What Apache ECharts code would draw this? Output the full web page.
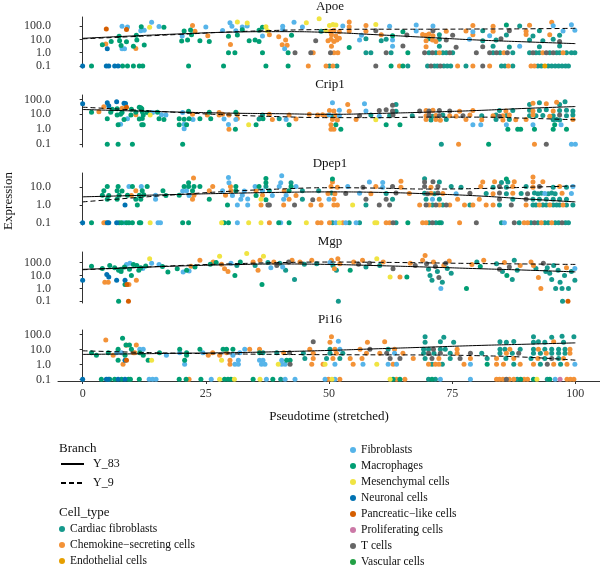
<!DOCTYPE html>
<html>
<head>
<meta charset="utf-8">
<title>Expression along pseudotime</title>
<script src="https://cdn.jsdelivr.net/npm/echarts@6/dist/echarts.min.js"></script>
</head>
<body style="margin:0">
<div id="main" style="width:600px;height:570px;"></div>
<script type="text/javascript">
// categories
var cellTypes = ['Cardiac fibroblasts', 'Chemokine\u2212secreting cells', 'Endothelial cells', 'Fibroblasts',
    'Macrophages', 'Mesenchymal cells', 'Neuronal cells', 'Pancreatic\u2212like cells',
    'Proliferating cells', 'T cells', 'Vascular cells'];
var cellColors = ['#15998c', '#f39237', '#e69f00', '#56b4e9', '#009e73', '#f0e442',
    '#0072b2', '#d55e00', '#cc79a7', '#666666', '#22a045'];
var genes = ['Apoe', 'Crip1', 'Dpep1', 'Mgp', 'Pi16'];
var branches = ['Y_83', 'Y_9'];

// smoothed trends, read at pseudotime 0,10,...,100
var trendX = [0, 10, 20, 30, 40, 50, 60, 70, 80, 90, 100];
var apoeY83 = [12, 18, 26, 35, 38, 33, 22, 14, 9, 6.5, 4.8];
var apoeY9 = [11, 16, 24, 36, 48, 55, 58, 58, 60, 62, 68];
var crip1Y83 = [21, 17, 14, 12, 11, 10, 11.5, 14, 18, 25, 33];
var crip1Y9 = [30, 20, 13, 9, 7, 6, 6, 6.5, 6.5, 5.5, 4.3];
var dpep1Y83 = [2.9, 3.4, 4.0, 4.6, 5.2, 5.5, 5.2, 4.3, 3.3, 2.2, 1.5];
var dpep1Y9 = [1.5, 2.5, 4, 6, 8, 9.5, 9, 8, 8.5, 10, 12];
var mgpY83 = [30, 40, 55, 68, 78, 72, 58, 45, 34, 26, 19];
var mgpY9 = [28, 40, 60, 80, 100, 110, 105, 95, 85, 78, 72];
var pi16Y83 = [4.6, 5, 5.5, 6, 7, 8.5, 11, 14, 18, 22, 27];
var pi16Y9 = [8, 6.5, 5.5, 5, 4.6, 4.4, 4.3, 4.2, 3.8, 3, 1.9];

// cells: [pseudotime, expression, cell type index]
var apoePts = [
    [0,0.1,6],[1.8,0.1,4],[4.8,0.1,6],[5.3,0.1,6],[6.5,0.1,6],[7.2,0.1,6],[8.1,0.1,4],[9.1,0.1,4],[10.3,0.1,4],[11.5,0.1,4],[12.2,0.1,4],[21.5,0.1,4],[28.6,0.1,4],[37.2,0.1,4],[41.7,0.1,4],[45.8,0.1,1],[49.4,0.1,1],
    [50.1,0.1,0],[50.8,0.1,1],[51.6,0.1,0],[59.5,0.1,9],[62.6,0.1,4],[64.3,0.1,1],[65,0.1,4],[66,0.1,0],[70,0.1,0],[70.7,0.1,9],[71.4,0.1,0],[72,0.1,0],[72.6,0.1,9],[73.3,0.1,0],[74,0.1,0],[74.7,0.1,0],[76.1,0.1,1],[77.8,0.1,0],[79.2,0.1,1],[81.2,0.1,9],[82.6,0.1,1],[85,0.1,0],[85.7,0.1,0],[86.4,0.1,1],[87.3,0.1,0],[91,0.1,1],[91.7,0.1,1],[92.4,0.1,0],[93.1,0.1,0],[93.8,0.1,2],[94.5,0.1,0],[95.2,0.1,0],[95.9,0.1,0],[96.6,0.1,0],[97.3,0.1,0],[98,0.1,0],[98.6,0.1,0],
    [29.6,1,4],[30.9,1,4],[36.5,1,4],[41.7,1,4],[43.1,1,9],[46.3,1,9],[46.8,1,1],
    [50.3,1,9],[51,1,1],[51.8,1,1],[57.5,1,0],[58.5,1,0],[61.6,1,9],[62.6,1,0],[66,1,4],[69.4,1,9],[70.3,1,0],[71,1,9],[71.7,1,0],[72.4,1,1],[73.1,1,0],[73.8,1,0],[74.5,1,9],[75.1,1,0],[79.9,1,9],[82.6,1,9],[83.3,1,0],[84,1,9],[84.7,1,0],[85.5,1,1],[86.2,1,9],[87.3,1,0],[90.7,1,0],[91.4,1,9],[92,1,0],[92.7,1,0],[93.4,1,1],[94.1,1,9],[94.8,1,0],[95.5,1,9],[96.2,1,0],[96.8,1,0],[97.5,1,1],[98.2,1,0],[99.2,1,0],[99.9,1,0],
    [5,2,6],[8,2,3],[8.5,2,3],[10.8,2.1,1],[41,2,3],
    [4,4,4],[4.7,4.5,1],[7.8,3.5,4],[10.3,3,4],[12.5,3.8,4],[30,4.2,1],[40.5,4,1],[41.5,3.6,1],
    [5.8,7,4],[7.5,8,4],[8.9,6.5,4],[11,9,4],[20.1,7.5,4],[21.3,9,4],[23.8,8,4],[25.7,7,4],[33.8,8,4],[35,9,4],[35.8,7,4],[41.2,9,1],[47.3,8,9],
    [7.4,17,4],[10.9,20,4],[20.2,18,3],[22.1,22,4],[25.4,19,1],[29.6,17,4],[31.4,21,4],[36.5,18,3],[37.9,22,1],[39.8,16,1],[42.4,20,4],
    [11.8,45,3],[12.5,48,3],[20.6,42,4],[21.9,50,4],[22.8,40,1],[28.4,46,3],[31.1,44,3],[32.4,52,4],[35.8,48,4],[37.5,45,5],[40.6,55,3],[48.4,40,0],
    [8,95,3],[9.1,85,3],[11.9,90,4],[13.6,80,5],[15.5,92,3],[16.5,80,4],[22.3,110,1],[25,85,3],[30.3,95,3],[32.4,85,3],[33.4,100,3],[36.5,80,4],[37.2,90,5],[40.6,95,3],[44.6,85,3],
    [4.8,60,7],[8.9,55,7],
    [14,190,3],[29.9,180,3],[31.4,200,5],[33.4,170,5],[42.9,190,3],[45.4,180,5],[48,350,5],
    [50.5,3,1],[54.1,2.5,4],[62.9,3,3],[65,3.2,9],[69.7,2.8,1],[72.4,3,0],[75.8,2.6,9],[81.2,2.8,9],[83.3,3,0],[86.6,2.7,0],[88.7,3,3],[92.7,2.8,0],[96.8,3.2,0],
    [49.8,8,1],[50.4,10,1],[51,7,1],[51.6,9,1],[52.1,12,1],[56.2,9,3],[57.5,11,0],[60.6,8,0],[61.6,10,0],[62.9,9,3],[69.7,8,1],[70.3,11,0],[71,9,1],[71.7,7,1],[72.4,10,0],[73.8,9,9],[78.5,10,3],[81.2,8,0],[83.9,9,0],[84.9,11,9],[90.7,9,0],[93.4,8,0],[95.5,10,0],[96.8,7,9],
    [50.5,22,1],[51.4,18,1],[56.6,20,3],[60.6,22,1],[62.9,19,4],[65.8,21,9],[69,23,1],[69.7,20,1],[70.3,25,1],[71.1,19,1],[72.4,22,0],[75.1,20,9],[79.2,22,1],[82.6,19,3],[86,21,0],[90,23,1],[91.4,18,0],[94.8,22,1],[96.8,20,0],
    [49.4,45,5],[50.2,40,1],[51,48,1],[52.1,38,1],[54.1,42,1],[57.5,40,1],[59.5,45,9],[65,38,4],[67.7,42,3],[71.1,45,9],[73.8,40,1],[77.8,42,1],[79.2,38,3],[81.2,45,0],[83.3,40,1],[86.6,44,9],[90,40,1],[92.7,45,0],[97.5,42,3],[99.9,48,3],
    [50.1,110,5],[50.8,130,5],[51.4,120,5],[52.8,100,3],[54.1,90,1],[57.5,110,1],[59.5,130,5],[62.3,95,3],[67.7,120,3],[71.1,100,3],[79.2,110,1],[83.3,95,1],[86,120,4],[88.7,100,0],[90.7,115,1],[95.5,105,3],[99.2,125,3],
    [54.1,200,1],[95.2,190,1]
];
var crip1Pts = [
    [5,0.1,4],[7.2,0.1,4],[10.1,0.1,4],[20.3,0.1,4],
    [0,50,6],[5,60,6],[6.9,70,6],[8.4,55,6],[8.7,52,6],
    [4.3,32,1],[5.3,38,6],[8.9,30,7],[11.5,30,4],[11.8,27,4],
    [6,22,4],[7,24,4],[8,25,1],[9.9,22,4],[12,24,4],
    [1.8,14,4],[3.3,15,1],[5.7,14,4],[8,13,4],[10.8,14,4],[12.1,15,4],[13.1,13,4],[14.2,13,3],[15.2,14,4],[20.3,13,3],[21.5,16,4],[25.7,14,4],[27.7,13,1],[31.1,14,4],
    [7,9,4],[7.7,10,4],[9.8,9,4],[10.8,9.5,1],[12.3,9,4],[13.7,9,5],[16,9.5,3],[16.9,9,3],[22.3,10,1],[25.3,9,1],[27.7,9,1],[28.4,10,1],[29.7,9,1],[31.4,10,1],[36.5,9,0],[37.9,10,1],[41.9,9,1],[46,10,1],[47.7,9,1],[48.7,9.5,1],
    [5,5,4],[8.4,4.5,4],[9.1,5,3],[11.5,4.8,4],[12.1,5.2,4],[15.5,5,4],[16.5,4.6,4],[19.6,5,4],[20.6,4.7,4],[21.6,5,4],[22.4,4.5,3],[23.8,5,4],[26,5,4],[28.7,4.8,3],[31.1,4.5,3],[31.4,5.2,1],[35.8,4.8,0],[36.6,5,4],[38.5,4.6,1],[39.9,5,0],[41.3,4.6,3],[43.3,4.8,1],
    [7.2,2,4],[7.7,2.2,3],[12,2,4],[12.3,2,4],[19.6,2,4],[20.6,2.2,3],[21.1,2,4],[29.6,2.1,3],[33.7,2,5],[35.2,2,4],[41.9,2,4],
    [20.6,1.1,3],[29.7,1,1],[31,1,4],
    [72.8,0.1,0],[76.3,0.1,1],[82.4,0.1,4],[91.7,0.1,1],[94.1,0.1,9],[99.2,0.1,3],[100,0.1,3],
    [50.4,1,1],[51,1,1],[52.4,1,4],[86.3,1,4],[88.3,1,4],[88.9,1,4],[91.7,1,4],[95.5,1,4],[98.2,1,4],
    [50.4,2,1],[51.4,2,4],[61.6,2,4],[64.4,2,4],[79.2,2,3],[80.8,2,3],[86,2,3],[91.4,2,3],[95.8,2,4],[97.1,2,3],
    [50.7,4.5,1],[51.7,4.2,1],[55.5,4.5,1],[59.5,4.3,5],[69.7,4.5,1],[70.7,4.2,0],[71.7,4.5,1],[72.6,4,1],[73.8,4.6,0],[77.8,4.5,1],[81,4.3,1],[83.9,4.5,0],[85.3,4.2,1],[86.6,4.6,0],[87.9,4.3,1],[90,4.5,1],[95.5,4.3,0],[96.2,4.5,0],[96.8,4.2,0],[99.5,4.6,1],
    [49.5,8,1],[50,9,3],[50.7,7.5,0],[51.4,8.5,1],[52.1,8,3],[56.2,8,9],[58.5,9,0],[60.2,7.5,3],[62.3,8,0],[63,9,9],[66.9,8,0],[69.7,8,1],[70.3,9,9],[71,7.5,0],[71.7,8.5,1],[72.4,8,9],[73.1,9,0],[74.5,8,1],[75.8,7.5,1],[77.2,8,9],[78.6,9,1],[81,8,0],[83.3,8,1],[83.9,9,0],[84.6,7.5,9],[85.3,8,1],[86,8.5,0],[86.6,9,1],[90.7,8,0],[91.4,9,1],[92,8,0],[93.4,8.5,0],[94.8,7.5,1],[95.5,8,0],[96.8,9,9],[98.2,8,0],[99.5,9,0],
    [50.1,18,1],[51,17,1],[52.1,19,3],[54.1,16,1],[57.5,17,3],[60.2,18,9],[61.6,20,9],[62.9,17,9],[63.6,16,0],[68.4,17,9],[69.7,18,1],[70.3,17,9],[71.1,19,1],[72.4,18,9],[74.5,17,9],[76.5,16,1],[79.2,18,1],[84.6,18,0],[85.9,17,1],[87.3,18,0],[90.7,19,0],[91.4,17,1],[92.7,18,0],[94.1,20,0],[95.5,17,1],[96.8,18,0],[98.2,19,0],[99.5,17,0],
    [50.7,60,3],[53.8,45,1],[57.2,50,3],[62.9,40,9],[63.6,45,0],[90.7,45,0],[91.4,55,1],[92.7,60,0],[94.1,50,1],[96.2,65,1],[97.9,70,0],[96.8,45,0]
];
var dpep1Pts = [
    [0,0.1,6],[1.8,0.1,4],[4.3,0.1,1],[4.7,0.1,1],[5,0.1,6],[5.3,0.1,6],[6.9,0.1,6],[7.4,0.1,4],[7.9,0.1,4],[8.4,0.1,3],[8.9,0.1,4],[9.4,0.1,4],[10.1,0.1,4],[11.5,0.1,4],[11.8,0.1,4],[13.7,0.1,5],[15.3,0.1,3],[15.8,0.1,3],[20.3,0.1,4],[21.5,0.1,4],[28.2,0.1,5],[28.7,0.1,4],[29.6,0.1,4],[31.4,0.1,3],[33.7,0.1,5],[36.2,0.1,5],[37.9,0.1,1],[39.8,0.1,4],[40.2,0.1,3],[41.9,0.1,4],[45.4,0.1,5],[47.7,0.1,1],[48.4,0.1,1],
    [8.6,1,6],[11.1,1,4],[29.4,1,4],[31.4,1,3],[33.5,1,3],[36.2,1,1],[37.6,1,9],[37.9,1,9],[40.8,1,1],[43,1,9],[46.3,1,1],[48.4,1,1],
    [5,2.1,4],[7,2.1,4],[10.8,2.1,4],[11.8,2.1,4],[14.8,2.1,3],[22.3,2.1,1],[25.7,2.1,4],[32.1,2.1,3],[33.5,2.2,3],[36.2,2.1,5],[37.2,2,4],[40.8,2.1,3],[41.9,2.1,1],[44.6,2.1,0],[46.7,2,9],[48,2.1,1],
    [4,3.6,4],[5.3,3.5,4],[7.4,3.6,4],[9.1,3.6,4],[9.9,3.4,1],[11.5,3.6,4],[12.4,3.8,4],[14.8,3.6,3],[16.9,3.5,4],[19.6,3.6,4],[21.6,3.5,3],[22.6,3.6,1],[29,3.6,1],[30.4,3.5,3],[32.4,3.6,3],[35.2,3.5,4],[36.5,3.6,1],[38.5,3.4,3],[41.3,3.6,3],[43.3,3.5,1],
    [4.3,6.4,4],[7,6.4,4],[8,6.2,4],[10.8,6.4,1],[12.1,6.4,4],[16.3,6.4,4],[20.3,6.2,3],[21.1,6.5,3],[22.3,6.4,4],[25.7,6.4,1],[28.4,6.3,3],[30.1,6.4,1],[31.1,6.4,4],[32.8,6.2,3],[35.2,6.4,1],[36.5,6.4,3],[37.9,6.4,0],[40.9,6.2,1],[41.9,6.4,4],[44.6,6.4,0],[47.9,6.4,0],
    [5,11,4],[7.2,11,4],[9.4,11,3],[10.1,11,4],[11.9,11,3],[13.1,11,4],[20.6,11,4],[21.5,11,4],[22.6,11,4],[23.8,11,4],[26.4,11,1],[30,11,1],[31.1,11,4],[35,11,3],[35.8,11,4],[37.2,11,0],[39.9,11,3],[42.3,11,4],[43.3,11,3],
    [21.5,18,4],[29.7,18,3],[37.2,18,4],[40.2,18,3],[42.3,18,0],
    [22.5,34,1],[29.6,36,3],[37.2,32,4],[40.4,45,3],
    [50.1,0.1,1],[50.7,0.1,0],[51.4,0.1,3],[52.1,0.1,5],[52.8,0.1,1],[53.4,0.1,3],[54.1,0.1,0],[55.5,0.1,3],[56.2,0.1,0],[59.3,0.1,5],[59.7,0.1,5],[61.6,0.1,1],[62.3,0.1,1],[63,0.1,9],[63.6,0.1,0],[66,0.1,4],[69,0.1,1],[69.7,0.1,1],[70.3,0.1,0],[71,0.1,9],[71.7,0.1,0],[72.4,0.1,4],[72.8,0.1,0],[76.5,0.1,1],[79.9,0.1,9],[85,0.1,0],[85.6,0.1,3],[87.6,0.1,9],[88.6,0.1,0],[89.6,0.1,1],[90.3,0.1,1],[91,0.1,0],[91.7,0.1,9],[92.4,0.1,0],[93.1,0.1,1],[93.8,0.1,0],[94.5,0.1,0],[95.2,0.1,1],[95.9,0.1,0],[96.6,0.1,0],[97.3,0.1,9],[98,0.1,0],[98.6,0.1,0],
    [51,1,1],[51.7,1,1],[54.8,1,5],[57.5,1,0],[60.2,1,9],[62.3,1,9],[68.4,1,1],[69.7,1,9],[70.3,1,1],[71,1,0],[71.7,1,9],[72.4,1,1],[73.1,1,0],[73.8,1,9],[74.5,1,1],[77.5,1,1],[78.6,1,0],[79.2,1,1],[81.9,1,1],[83.3,1,1],[84.6,1,0],[87,1,9],[90,1,1],[91.4,1,0],[92,1,0],[92.7,1,1],[93.4,1,0],[94.1,1,0],[94.8,1,1],[95.5,1,0],[96.2,1,0],[96.8,1,0],[97.5,1,1],[98.2,1,0],[99.5,1,0],
    [50,2.1,3],[51,2.1,1],[57.5,2.1,9],[61.6,2.1,9],[62.9,2.1,0],[69.7,2.1,0],[71,2.1,3],[72.4,2.1,0],[76.1,2.1,1],[80.5,2.1,1],[84.6,2.1,9],[87.3,2.1,0],[90,2.1,9],[91.4,2.1,0],[92.7,2.1,0],[94.1,2.1,0],[95.5,2.1,0],[96.8,2.1,0],[98.2,2.1,0],
    [49.8,4.5,1],[50.5,4.8,0],[51.2,4.3,1],[53.4,4.5,9],[56.2,4.6,3],[58.5,4.4,1],[61.6,4.5,0],[63.6,4.8,9],[66.3,4.5,1],[69.4,4.6,0],[70,4.3,9],[70.7,4.6,1],[71.4,4.4,0],[72.1,4.8,9],[73.1,4.5,1],[75.8,4.4,3],[78.6,4.6,9],[81.9,4.5,0],[83.3,4.4,1],[84.6,4.7,9],[86,4.3,0],[87.3,4.6,1],[89,4.5,0],[90.3,4.4,9],[91.7,4.7,0],[92.4,4.3,0],[93.1,4.6,0],[93.8,4.5,3],[94.5,4.3,0],[95.2,4.8,0],[95.9,4.4,0],[97.3,4.6,1],[99.2,4.5,3],
    [50.4,11,1],[51.7,10,1],[53.8,11,3],[56.9,10,9],[59.5,11,1],[60.9,10,3],[62.9,11,9],[64.6,10,1],[69.4,11,9],[70.7,10,1],[72.1,11,9],[74.8,11,0],[76.8,10,0],[80.8,11,1],[83.3,10,0],[84.6,11,9],[86,10,0],[87.3,11,1],[90,11,0],[91.4,10,1],[92.7,11,9],[95.5,10,0],[96.8,11,1],[98.2,10,0],[99.5,11,3],
    [50.7,20,1],[58.2,20,3],[60.9,19,3],[64.6,22,1],[69.4,20,9],[71.1,21,9],[72.4,20,0],[81.2,20,1],[83.6,21,1],[85,19,0],[86.3,20,0],[87.6,21,1],[91.4,20,1],[93.4,21,1],
    [50.7,30,4],[69.4,31,0],[86,30,4],[91.4,38,1]
];
var mgpPts = [
    [0,4.3,6],[1.8,52,4],[4.5,3,1],[5.2,3,1],[4.9,12,6],[5.3,7.6,6],[6.9,4.3,6],[7.3,0.1,4],[8.6,4.3,6],[8.6,2,4],[9,2,7],[9.3,0.1,7],[9.4,2,1],[9.9,10,4],[10.9,4.3,1],
    [4,35,4],[5.5,60,4],[6.5,40,4],[7.3,25,4],[7.8,30,4],[8.5,45,4],[9.5,30,4],[10.3,70,4],[11,60,4],[11.8,40,4],[12.2,35,3],[12.8,55,4],[7.8,20,4],[8.9,70,3],[9.6,90,3],[11.4,25,4],
    [13.6,200,5],[14,90,3],[15.5,70,3],[16.2,50,4],[17.3,19,4],[19.2,34,4],[20.4,19,3],[21.1,25,4],[21.6,22,3],[22,52,1],[22.8,45,4],[23.8,150,1],[25.9,74,4],[26.5,112,1],[27.1,100,4],[27.8,310,5],[28.2,74,1],[28.8,34,1],[29.5,20,1],[30.1,90,3],[30.9,10,4],[31.3,60,0],[32,110,4],[33.3,500,5],[34.6,112,1],[35,60,0],[35.6,25,1],[36,150,1],[36.4,2,4],[36.7,310,5],[37.6,100,0],[38.2,40,3],[38.8,112,1],[39.4,60,9],[40,90,0],[40.6,45,3],[41.2,25,0],[41.8,110,9],[42.5,150,1],[43,4.8,0],
    [44.1,112,1],[45,74,0],[46.5,150,1],[47.5,80,0],
    [50.2,100,3],[50.5,150,1],[50.8,60,0],[51.1,34,1],[51.5,25,0],[51.8,200,1],[51.9,0.1,0],[52.2,80,1],
    [54.3,25,4],[55,110,1],[56,74,9],[56.8,150,1],[57.5,45,0],[58.2,90,9],[59.7,200,5],[60.3,60,0],[61,110,1],[62.4,7.6,5],[63,34,9],
    [64.4,7.6,1],[65.8,7.6,4],[66.5,90,1],[67.5,60,9],
    [69,150,1],[69.5,360,1],[69.8,80,9],[70.2,30,0],[70.5,10,0],[70.9,4.3,0],[71.2,112,1],[71.6,50,9],[72,20,0],[72.3,7,9],[72.7,1,3],[73,3,0],[73.3,60,1],[73.7,90,9],[74,35,0],[74.4,130,1],[74.8,15,0],
    [77.9,1,4],[79,70,1],[80,110,0],[80.7,50,4],[81.4,150,1],
    [84,80,0],[84.6,30,9],[85.2,20,0],[85.6,100,1],[86.1,10,4],[86.6,45,9],[87.2,5,0],[87.6,150,0],[88.2,25,0],[88.8,60,1],
    [91,110,1],[91.5,60,1],[92,35,0],[92.5,7,1],[93,1,1],[93.5,90,9],[94,20,0],
    [94.3,40,0],[94.8,15,0],[95.2,5,0],[95.6,60,0],[96,1,0],[96.5,25,0],[96.9,3,0],[97.3,1,0],[97.8,10,0],[98.2,40,1],[98.6,1,0],[97.4,0.1,0],[98.5,0.1,7],[99.2,20,0],[99.9,4.3,0],[99.9,35,3]
];
var pi16Pts = [
    [0,0.1,6],[3.8,0.1,4],[4.8,0.1,6],[5.2,0.1,6],[5.5,0.1,4],[6.5,0.1,4],[7.2,0.1,6],[7.9,0.1,4],[8.6,0.1,6],[9.3,0.1,4],[9.7,0.1,4],[11.5,0.1,4],[13.5,0.1,3],[14.2,0.1,3],[14.9,0.1,3],[19.6,0.1,4],[21,0.1,4],[21.6,0.1,1],[24,0.1,4],[26.1,0.1,3],[27.8,0.1,5],[28.8,0.1,4],[29.5,0.1,4],[30.1,0.1,4],[30.8,0.1,5],[34.6,0.1,4],[36,0.1,5],[37.3,0.1,3],[38.6,0.1,4],[40.2,0.1,0],[41.1,0.1,3],[43.1,0.1,3],
    [4.7,42,1],[8.1,54,4],[8.8,19.5,4],[9.5,19.5,4],[8.9,19,1],[10.9,19.5,1],
    [7.2,10,4],[9.9,10,4],[11.6,10,3],[12.3,10,3],[19.7,10,4],[23.8,10,4],[28.5,10,4],[29.2,10,4],[30.5,10,4],[32.9,10,3],[33.9,10,1],[35.9,10,1],
    [1.8,5.9,4],[5.2,5.9,4],[6.9,5.9,3],[7.9,5.9,3],[10.3,5.9,1],[10.6,5.9,1],[11.6,5.9,4],[15.6,5.9,4],[19.7,5.9,3],[21.1,5.9,4],[24.4,5.9,3],[26.4,5.9,1],[29.2,5.9,1],[31.9,5.9,3],[35.9,5.9,4],[36.6,5.9,0],[39.4,5.9,0],[40.8,5.9,1],[42,5.9,9],
    [2.8,4.1,4],[6.2,4.1,1],[8.6,4.1,4],[12.3,4.1,4],[17,4.1,3],[21.1,4.1,4],[25.5,4.1,1],[27.8,4.1,1],[30.5,4.1,3],
    [7.2,1.9,4],[8.6,1.9,6],[8.9,1.9,7],[13.3,1.9,4],[14,1.9,5],[20.7,1.9,4],[28.2,1.9,5],[29.9,1.9,1],[31.6,1.9,3],[35.9,1.9,3],[36.6,1.9,3],[40.4,1.9,3],[41.4,1.9,4],[42.1,1.9,4],
    [8.2,1,1],[20.7,1,3],[29.9,1,1],[30.9,1,3],[31.6,1,3],[36.3,1,3],[37,1,3],[39.7,1,5],[40.4,1,3],[41.1,1,3],[42.1,1,9],
    [49.2,0.1,3],[49.9,0.1,1],[50.6,0.1,5],[51.2,0.1,3],[52.2,0.1,1],[62.4,0.1,5],[63,0.1,4],[63.7,0.1,1],[64.4,0.1,4],[65.4,0.1,1],[70.2,0.1,0],[70.9,0.1,4],[71.6,0.1,0],[72.6,0.1,3],[78.7,0.1,3],[84,0.1,1],[84.6,0.1,1],[85.3,0.1,1],[86,0.1,9],[86.6,0.1,1],[87.5,0.1,1],[88.2,0.1,0],[88.9,0.1,4],[89.6,0.1,1],[90.3,0.1,1],[91.5,0.1,4],[92.2,0.1,5],[94.3,0.1,0],[94.8,0.1,4],[95.9,0.1,3],[96.9,0.1,8],[98.3,0.1,1],[99,0.1,1],[99.7,0.1,1],
    [46.5,1,1],[48.8,1,1],[49.2,1,5],[51.2,1,3],[54.9,1,1],[56.9,1,3],[59.7,1,5],[62,1,3],[63,1,1],[63.7,1,3],[70.2,1,1],[70.9,1,0],[71.6,1,1],[72.3,1,1],[73,1,0],[77.4,1,1],[78.7,1,3],[82.1,1,4],[84,1,1],[85.4,1,1],[87.5,1,0],[88.8,1,1],[91.5,1,1],[92.9,1,0],[94.3,1,9],[95.6,1,1],[97,1,0],[98.3,1,1],[99.9,1,3],
    [45.1,2.5,0],[46.8,2.5,1],[49.5,2.5,0],[50.8,2.5,1],[52.2,2.5,0],[54.3,2.5,1],[56.7,2.5,1],[62.4,2.5,9],[64.4,2.5,9],[67.1,2.5,1],[69.5,2.5,0],[70.9,2.5,9],[72.3,2.5,1],[74.6,2.5,0],[76.6,2.5,9],[78.7,2.5,1],[82.1,2.5,0],[84,2.5,1],[85.9,2.5,0],[87.5,2.5,1],[91,2.5,0],[92.4,2.5,1],[93.8,2.5,0],[95.2,2.5,9],[96.6,2.5,0],[97.6,2.5,1],
    [44.8,5.4,0],[46.8,5.4,1],[50.2,5.4,0],[51.5,5.4,1],[52.8,5.4,0],[57.6,5.4,1],[60.3,5.4,1],[61.7,5.4,9],[63.3,5.4,3],[65,5.4,1],[69.2,5.4,0],[70.2,5.4,9],[71.3,5.4,0],[72.6,5.4,9],[74.6,5.4,0],[76,5.4,1],[78.7,5.4,9],[81,5.4,0],[84.7,5.4,0],[86,5.4,1],[87.2,5.4,0],[88.5,5.4,9],[91.5,5.4,0],[92.9,5.4,0],[94.1,5.4,1],[95.2,5.4,0],[96.6,5.4,0],[97.9,5.4,0],[98.9,5.4,1],
    [46.1,10,1],[50.2,10,0],[51.2,10,1],[52.2,10,3],[56.3,10,1],[58.3,10,9],[62,10,0],[63.3,10,1],[69.2,10,0],[70.2,10,0],[71.2,10,9],[72.6,10,0],[73.6,10,0],[76,10,1],[84.7,10,0],[85.7,10,0],[86.7,10,1],[88.8,10,0],[91.5,10,0],[92.5,10,1],[93.8,10,0],[95.2,10,0],[96.6,10,0],[97.9,10,0],[98.9,10,1],
    [46.8,32,9],[50.2,30,1],[51.9,35,3],[57.8,30,1],[61.3,32,1],[69.5,30,0],[72.6,32,0],[75.3,30,0],[84.7,32,0],[86,30,0],[87.5,33,0],[91.5,30,0],[92.5,32,0],[93.8,30,0],[95.6,32,1],[97.6,30,0],
    [50.5,70,1],[69.5,70,0],[73.3,65,0],[91.5,70,0],[95.2,65,0],[97.3,75,0],[99.7,70,0]
];

var yTicks4 = [0.1, 1, 10, 100];
var yTicks3 = [0.1, 1, 10];
var xTicks = [0, 25, 50, 75, 100];

var FONT = '"Liberation Serif", "DejaVu Serif", serif';

// panel layout (pixels) and log axis ranges
var panels = [
    {pts: apoePts,  y83: apoeY83,  y9: apoeY9,  top: 17,  height: 51, min: 0.0708, max: 479, ticks: yTicks4, titleY: 7},
    {pts: crip1Pts, y83: crip1Y83, y9: crip1Y9, top: 95,  height: 52, min: 0.066,  max: 195, ticks: yTicks4, titleY: 85},
    {pts: dpep1Pts, y83: dpep1Y83, y9: dpep1Y9, top: 173, height: 52, min: 0.074,  max: 64.6, ticks: yTicks3, titleY: 164},
    {pts: mgpPts,   y83: mgpY83,   y9: mgpY9,   top: 252, height: 51, min: 0.074,  max: 661, ticks: yTicks4, titleY: 242},
    {pts: pi16Pts,  y83: pi16Y83,  y9: pi16Y9,  top: 330, height: 51, min: 0.0776, max: 195, ticks: yTicks4, titleY: 320}
];

function zip(xs, ys) {
    return xs.map(function (x, i) { return [x, ys[i]]; });
}

var grids = [], xAxes = [], yAxes = [], series = [], graphics = [];
panels.forEach(function (p, i) {
    var last = i === panels.length - 1;
    grids.push({left: 58, width: 542, top: p.top, height: p.height});
    xAxes.push({
        type: 'value', gridIndex: i, min: -5, max: 105, show: last,
        axisLine: {onZero: false, lineStyle: {color: '#333', width: 1}},
        axisTick: {customValues: xTicks, length: 3, lineStyle: {color: '#333'}},
        axisLabel: {customValues: xTicks, margin: 7, color: '#333', fontFamily: FONT, fontSize: 12},
        splitLine: {show: false}
    });
    yAxes.push({
        type: 'log', logBase: 10, gridIndex: i, min: p.min, max: p.max,
        axisLine: {show: true, lineStyle: {color: '#333', width: 1}},
        axisTick: {show: true, customValues: p.ticks, length: 3, lineStyle: {color: '#333'}},
        axisLabel: {customValues: p.ticks, margin: 7, color: '#333', fontFamily: FONT, fontSize: 12,
            formatter: function (v) { return Number(v).toFixed(1); }},
        splitLine: {show: false}, minorTick: {show: false}
    });
    cellTypes.forEach(function (name, t) {
        var d = p.pts.filter(function (c) { return c[2] === t; }).map(function (c) { return [c[0], c[1]]; });
        series.push({
            type: 'scatter', name: name, xAxisIndex: i, yAxisIndex: i, data: d,
            symbolSize: 5, itemStyle: {color: cellColors[t], opacity: 1}, z: 2
        });
    });
    [p.y83, p.y9].forEach(function (vals, b) {
        series.push({
            type: 'line', name: branches[b], xAxisIndex: i, yAxisIndex: i,
            data: zip(trendX, vals), smooth: true, symbol: 'none',
            lineStyle: {color: '#000', width: 1, type: b === 0 ? 'solid' : [5, 3]},
            itemStyle: {color: '#000'}, z: 5
        });
    });
    graphics.push({type: 'text', x: 330, y: p.titleY,
        style: {text: genes[i], align: 'center', verticalAlign: 'middle', fontFamily: FONT, fontSize: 13, fill: '#111'}});
});

graphics.push({type: 'text', x: 329, y: 417,
    style: {text: 'Pseudotime (stretched)', align: 'center', verticalAlign: 'middle', fontFamily: FONT, fontSize: 13, fill: '#111'}});
graphics.push({type: 'text', x: 9, y: 201, rotation: Math.PI / 2,
    style: {text: 'Expression', align: 'center', verticalAlign: 'middle', fontFamily: FONT, fontSize: 13, fill: '#111'}});
graphics.push({type: 'text', x: 59, y: 449,
    style: {text: 'Branch', align: 'left', verticalAlign: 'middle', fontFamily: FONT, fontSize: 13, fill: '#111'}});
graphics.push({type: 'text', x: 59, y: 513,
    style: {text: 'Cell_type', align: 'left', verticalAlign: 'middle', fontFamily: FONT, fontSize: 13, fill: '#111'}});

var legendText = {fontFamily: FONT, fontSize: 11.5, color: '#111', lineHeight: 14};

var option = {
    animation: false,
    backgroundColor: '#fff',
    grid: grids,
    xAxis: xAxes,
    yAxis: yAxes,
    series: series,
    graphic: graphics,
    legend: [
        {data: branches, orient: 'vertical', left: 60, top: 458, height: 60, padding: 0, itemWidth: 23, itemHeight: 14, itemGap: 7,
            selectedMode: false, itemStyle: {opacity: 0}, textStyle: {fontFamily: FONT, fontSize: 12, color: '#111', padding: [0, 0, 0, 4]}},
        {data: cellTypes.slice(0, 3), orient: 'vertical', left: 59, top: 522, height: 80, padding: 0, icon: 'circle',
            itemWidth: 6, itemHeight: 6, itemGap: 2, selectedMode: false, textStyle: legendText},
        {data: cellTypes.slice(3), orient: 'vertical', left: 350, top: 443, height: 160, padding: 0, icon: 'circle',
            itemWidth: 6, itemHeight: 6, itemGap: 2, selectedMode: false, textStyle: legendText}
    ]
};

var myChart = echarts.init(document.getElementById('main'));
myChart.setOption(option);
</script>
</body>
</html>
